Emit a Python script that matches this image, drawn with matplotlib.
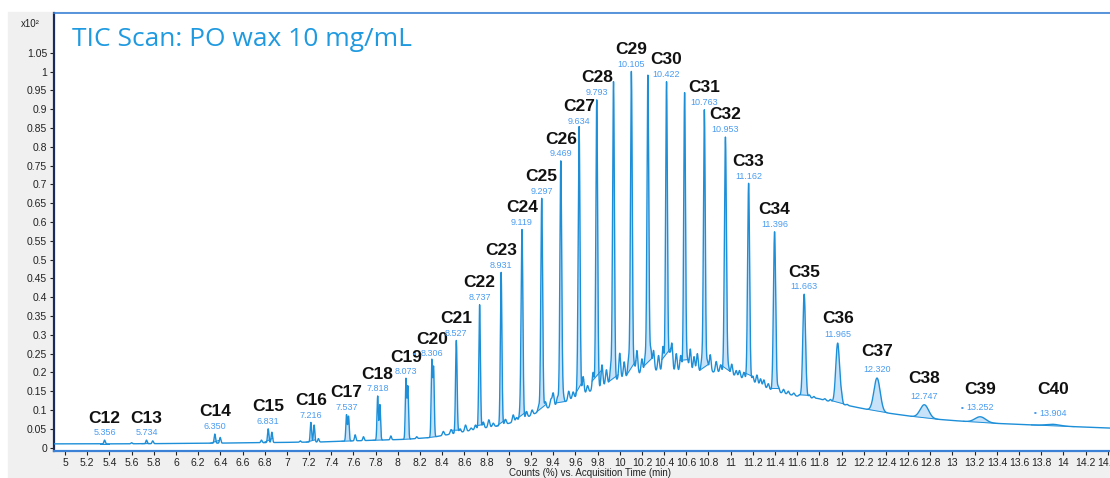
import numpy as np
import matplotlib
matplotlib.use('Agg')
import matplotlib.pyplot as plt
from matplotlib.patches import Rectangle

plt.rcParams.update({'font.family': 'Liberation Sans', 'font.size': 7})

# hump / baseline level (time in min, counts x10^2)
BASE_T = [4.90, 5.5, 6.0, 6.4, 7.0, 7.3, 7.6, 7.84, 8.07, 8.3, 8.5, 8.73, 8.93, 9.12,
          9.3, 9.51, 9.64, 9.81, 9.96, 10.09, 10.27, 10.43, 10.58, 10.76, 10.94, 11.15,
          11.39, 11.66, 11.78, 11.96, 12.32, 12.75, 13.27, 13.9, 14.42]
BASE_Y = [0.010, 0.010, 0.011, 0.012, 0.014, 0.015, 0.018, 0.020, 0.022, 0.027, 0.037,
          0.050, 0.059, 0.074, 0.100, 0.122, 0.140, 0.158, 0.180, 0.190, 0.205, 0.204,
          0.204, 0.202, 0.200, 0.180, 0.150, 0.133, 0.131, 0.118, 0.096, 0.078, 0.066,
          0.058, 0.052]

# labelled n-alkane peaks
LABELS = ['C12', 'C13', 'C14', 'C15', 'C16', 'C17', 'C18', 'C19', 'C20', 'C21', 'C22',
          'C23', 'C24', 'C25', 'C26', 'C27', 'C28', 'C29', 'C30', 'C31', 'C32', 'C33',
          'C34', 'C35', 'C36', 'C37', 'C38', 'C39', 'C40']
RT = [5.356, 5.734, 6.350, 6.831, 7.216, 7.537, 7.818, 8.073, 8.306, 8.527, 8.737,
      8.931, 9.119, 9.297, 9.469, 9.634, 9.793, 10.105, 10.422, 10.763, 10.953, 11.162,
      11.396, 11.663, 11.965, 12.320, 12.747, 13.252, 13.904]
APEX = [0.020, 0.020, 0.036, 0.050, 0.067, 0.087, 0.137, 0.182, 0.230, 0.285, 0.380,
        0.466, 0.579, 0.663, 0.762, 0.849, 0.925, 1.000, 0.973, 0.898, 0.826, 0.703,
        0.574, 0.408, 0.278, 0.185, 0.114, 0.082, 0.062]
SIGMA = [0.006, 0.006, 0.006, 0.006, 0.006, 0.006, 0.006, 0.006, 0.006, 0.007, 0.007,
         0.007, 0.008, 0.008, 0.008, 0.008, 0.008, 0.008, 0.008, 0.008, 0.009, 0.009,
         0.010, 0.012, 0.017, 0.028, 0.038, 0.048, 0.060]
MARKED = ['C20', 'C39', 'C40']   # small marker in front of the RT label

# tall peaks without a label
UNL_T = [9.944, 10.254, 10.585]
UNL_Y = [0.973, 0.990, 0.944]

# doublet partners and small peaks on the flat part
MINOR_T = [5.60, 5.79, 6.398, 6.77, 6.864, 7.12, 7.245, 7.284, 7.555, 7.615, 7.69,
           7.838, 7.937, 8.09, 8.17, 8.322]
MINOR_Y = [0.013, 0.018, 0.027, 0.020, 0.041, 0.018, 0.060, 0.024, 0.083, 0.034, 0.029,
           0.114, 0.031, 0.162, 0.029, 0.211]

# noise spikes riding on the hump
NOISE_T = [8.41, 8.48, 8.56, 8.61, 8.66, 8.70, 8.77, 8.82, 8.86, 8.97, 9.04, 9.07,
           9.10, 9.16, 9.21, 9.27, 9.33, 9.38, 9.40, 9.44, 9.49, 9.54, 9.58, 9.62,
           9.67, 9.71, 9.76, 9.84, 9.88, 9.92, 10.00, 10.04, 10.08, 10.13, 10.155,
           10.20, 10.23, 10.28, 10.305, 10.35, 10.39, 10.45, 10.47, 10.51, 10.55,
           10.61, 10.636, 10.67, 10.70, 10.74, 10.79, 10.816, 10.87, 10.91, 10.98,
           11.01, 11.05, 11.08, 11.12, 11.20, 11.237, 11.27, 11.30, 11.34, 11.43,
           11.477, 11.52, 11.57, 11.62, 11.71, 11.75, 11.80, 11.85, 11.90, 12.00,
           12.05, 12.12]
NOISE_Y = [0.043, 0.048, 0.050, 0.060, 0.052, 0.060, 0.068, 0.074, 0.065, 0.075, 0.087,
           0.080, 0.090, 0.096, 0.100, 0.110, 0.122, 0.128, 0.145, 0.135, 0.140, 0.150,
           0.148, 0.160, 0.189, 0.165, 0.200, 0.220, 0.207, 0.215, 0.251, 0.228, 0.235,
           0.220, 0.258, 0.236, 0.240, 0.262, 0.258, 0.245, 0.269, 0.250, 0.276, 0.250,
           0.245, 0.235, 0.262, 0.242, 0.250, 0.232, 0.230, 0.247, 0.229, 0.220, 0.215,
           0.222, 0.205, 0.205, 0.200, 0.190, 0.193, 0.183, 0.180, 0.170, 0.162, 0.155,
           0.150, 0.145, 0.140, 0.140, 0.136, 0.130, 0.130, 0.128, 0.131, 0.115, 0.108]

LINE = '#1d8fd8'
FILL = '#c8e2fa'
RT_COL = '#4a9cf0'
TITLE_COL = '#1f9ae0'

# extra lift (points) for labels that sit higher than the rest
LIFT = {'C36': 2, 'C37': 3, 'C38': 3, 'C39': 4, 'C40': 9}

t = np.arange(4.90, 14.42, 0.001)
base = np.interp(t, BASE_T, BASE_Y)


def gauss(tc, h, s):
    amp = max(h - np.interp(tc, BASE_T, BASE_Y), 0.)
    return amp * np.exp(-0.5 * ((t - tc) / s) ** 2)


y = base.copy()
for tc, h, s in zip(RT, APEX, SIGMA):
    y += gauss(tc, h, s)
for tc, h in zip(UNL_T, UNL_Y):
    y += gauss(tc, h, 0.008)
for tc, h in zip(MINOR_T, MINOR_Y):
    y += gauss(tc, h, 0.006)
for tc, h in zip(NOISE_T, NOISE_Y):
    y += gauss(tc, h, 0.008)

fig = plt.figure(figsize=(11.1, 4.78), dpi=100)
fig.patches.append(Rectangle((8 / 1110, 0), 1, 1 - 12 / 478, transform=fig.transFigure,
                             color='#f0f0f0', zorder=-1))
ax = fig.add_axes([54 / 1110, 1 - 451 / 478, 1056 / 1110, 438 / 478])

# integrated areas
for tc, s in list(zip(RT, SIGMA)) + [(u, 0.008) for u in UNL_T]:
    w = max(3.2 * s, 0.042)
    m = (t >= tc - w) & (t <= tc + w)
    tt, yy = t[m], y[m]
    chord = np.linspace(yy[0], yy[-1], len(tt))
    ax.fill_between(tt, chord, yy, color=FILL, lw=0, zorder=2)
    ax.plot([tt[0], tt[-1]], [yy[0], yy[-1]], color=LINE, lw=0.7, zorder=2.5)

ax.plot(t, y, color=LINE, lw=1.0, zorder=3)

for lab, tc, h in zip(LABELS, RT, APEX):
    up = LIFT.get(lab, 0)
    ax.annotate(f'{tc:.3f}', (tc, h), xytext=(0, 2 + up * 0.3), textcoords='offset points',
                ha='center', va='bottom', fontsize=6.5, color=RT_COL)
    ax.annotate(lab, (tc, h), xytext=(0, 10.5 + up), textcoords='offset points',
                ha='center', va='bottom', fontsize=12.5, fontweight='bold',
                color='#111111')
    if lab in MARKED:
        ax.annotate('▪', (tc, h), xytext=(-13, 6 + up * 0.3), textcoords='offset points',
                    ha='center', va='center', fontsize=3, color=RT_COL,
                    family='DejaVu Sans')

ax.set_xlim(4.90, 14.42)
ax.set_ylim(-0.009, 1.156)
xt = np.round(np.arange(5, 14.41, 0.2), 1)
ax.set_xticks(xt)
ax.set_xticklabels([f'{v:g}' for v in xt])
yt = np.round(np.arange(0, 1.051, 0.05), 2)
ax.set_yticks(yt)
ax.set_yticklabels([f'{v:g}' for v in yt])
ax.tick_params(length=3, pad=2, labelsize=7.5, colors='#222222')

ax.spines['right'].set_visible(False)
ax.spines['left'].set_color('#1a2a5c')
ax.spines['left'].set_linewidth(1.6)
ax.spines['top'].set_color('#3b82d6')
ax.spines['top'].set_linewidth(1.2)
ax.spines['bottom'].set_color('#3b82d6')
ax.spines['bottom'].set_linewidth(1.6)

ax.text(0.017, 0.94, 'TIC Scan: PO wax 10 mg/mL', transform=ax.transAxes,
        ha='left', va='center', fontsize=19, color=TITLE_COL, family='Open Sans')
fig.text(30 / 1110, 1 - 24 / 478, 'x10²', ha='center', va='center', fontsize=7,
         color='#222222')
fig.text(590 / 1110, 1 - 473 / 478, 'Counts (%) vs. Acquisition Time (min)',
         ha='center', va='center', fontsize=7, color='#222222')

fig.savefig('out.png', dpi=100)
